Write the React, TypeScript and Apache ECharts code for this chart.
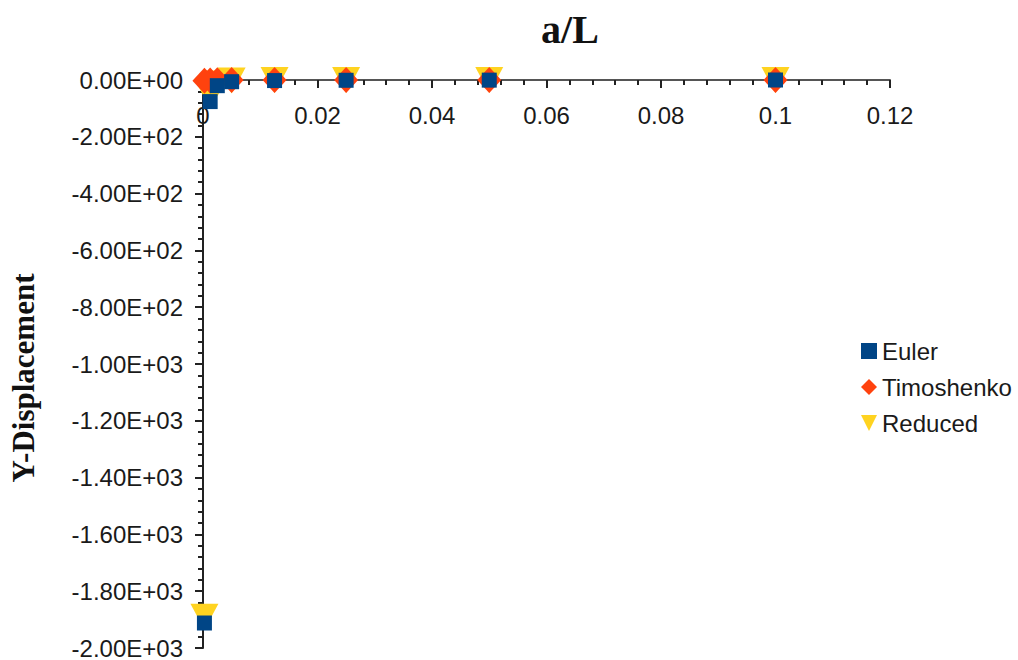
import React, { useEffect, useRef } from "react";
import * as echarts from "echarts";

const xValues = [0.1, 0.05, 0.025, 0.0125, 0.005, 0.0025, 0.00125, 0.00025];
const eulerY = [0, -0.5, -1, -2, -6, -20, -76, -1912];
const timoshenkoY = [0, 0, 0, 0, 0, -1, -2, -3];
const reducedY = [0, 0, 0, 0, -2, -12, -55, -1890];
const seriesNames = ["Euler", "Timoshenko", "Reduced"];
const colors = ["#004586", "#ff420e", "#ffd320"];

const downTri = "path://M0,0 L10,0 L5,10 Z";

function fmtSci(v: number): string {
  if (v === 0) return "0.00E+00";
  const e = Math.floor(Math.log10(Math.abs(v)) + 1e-9);
  const m = v / Math.pow(10, e);
  const ae = Math.abs(e);
  return m.toFixed(2) + "E" + (e >= 0 ? "+" : "-") + (ae < 10 ? "0" : "") + ae;
}

function pairs(ys: number[]) {
  return xValues.map((x, i) => [x, ys[i]]);
}

export default function App() {
  const ref = useRef<HTMLDivElement>(null);
  useEffect(() => {
    if (!ref.current) return;
    const chart = echarts.init(ref.current, null, { renderer: "svg" });
    const labelFont = "'Liberation Sans', Arial, sans-serif";
    chart.setOption({
      animation: false,
      backgroundColor: "#ffffff",
      grid: { left: 203, right: 128, top: 80, bottom: 12, containLabel: false },
      legend: {
        orient: "vertical",
        left: 856,
        top: 334,
        itemWidth: 16,
        itemHeight: 16,
        itemGap: 12,
        textStyle: { fontFamily: labelFont, fontSize: 24, color: "#1a1a1a", padding: [0, 0, 0, 0] },
        data: [
          { name: "Euler", icon: "rect" },
          { name: "Timoshenko", icon: "diamond" },
          { name: "Reduced", icon: downTri },
        ],
      },
      xAxis: {
        type: "value",
        position: "top",
        min: 0,
        max: 0.12,
        interval: 0.02,
        axisLine: { show: true, onZero: false, lineStyle: { color: "#555", width: 2 } },
        axisTick: { show: true, inside: true, length: 8, lineStyle: { color: "#222", width: 2 } },
        minorTick: { show: true, splitNumber: 5, length: 5, lineStyle: { color: "#222", width: 2 } },
        axisLabel: {
          inside: true,
          margin: 23,
          fontFamily: labelFont,
          fontSize: 24,
          color: "#1a1a1a",
        },
        splitLine: { show: false },
      },
      yAxis: {
        type: "value",
        min: -2000,
        max: 0,
        interval: 200,
        axisLine: { show: true, onZero: false, lineStyle: { color: "#222", width: 2 } },
        axisTick: { show: true, length: 8, lineStyle: { color: "#222", width: 2 } },
        minorTick: { show: true, splitNumber: 5, length: 5, lineStyle: { color: "#222", width: 2 } },
        axisLabel: {
          margin: 20,
          fontFamily: labelFont,
          fontSize: 24,
          color: "#1a1a1a",
          formatter: (v: number) => fmtSci(v),
        },
        splitLine: { show: false },
      },
      graphic: [
        {
          type: "text",
          x: 570,
          y: 29,
          style: {
            text: "a/L",
            font: "bold 40px 'Liberation Serif', 'Times New Roman', serif",
            fill: "#111",
            textAlign: "center",
            textVerticalAlign: "middle",
          },
        },
        {
          type: "text",
          x: 23,
          y: 378,
          rotation: Math.PI / 2,
          style: {
            text: "Y-Displacement",
            font: "bold 31px 'Liberation Serif', 'Times New Roman', serif",
            fill: "#111",
            textAlign: "center",
            textVerticalAlign: "middle",
          },
        },
      ],
      series: [
        {
          name: seriesNames[0],
          type: "scatter",
          symbol: "rect",
          symbolSize: 15,
          z: 4,
          itemStyle: { color: colors[0], opacity: 1 },
          data: pairs(eulerY),
        },
        {
          name: seriesNames[1],
          type: "scatter",
          symbol: "diamond",
          symbolSize: [24, 26],
          z: 3,
          itemStyle: { color: colors[1], opacity: 1 },
          data: pairs(timoshenkoY),
        },
        {
          name: seriesNames[2],
          type: "scatter",
          symbol: downTri,
          symbolSize: [28, 26],
          z: 2,
          itemStyle: { color: colors[2], opacity: 1 },
          data: pairs(reducedY),
        },
      ],
    });
    return () => chart.dispose();
  }, []);
  return (
    <div
      ref={ref}
      style={{ position: "fixed", left: 0, top: 0, width: 1018, height: 660, background: "#fff" }}
    />
  );
}
